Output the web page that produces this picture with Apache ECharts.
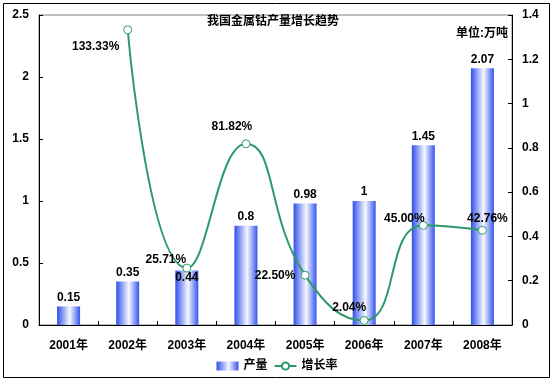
<!DOCTYPE html>
<html>
<head>
<meta charset="utf-8">
<script src="https://cdn.jsdelivr.net/npm/echarts@6/dist/echarts.min.js"></script>
<style>
html,body{margin:0;padding:0;background:#fff;}
#main{width:554px;height:383px;}
</style>
</head>
<body>
<div id="main"></div>
<script>
var categories = ['2001年','2002年','2003年','2004年','2005年','2006年','2007年','2008年'];
var output = [0.15, 0.35, 0.44, 0.8, 0.98, 1, 1.45, 2.07];
var growth = [null, 1.3333, 0.2571, 0.8182, 0.225, 0.0204, 0.45, 0.4276];
var leftTicks = {min: 0, max: 2.5, interval: 0.5};
var rightTicks = {min: 0, max: 1.4, interval: 0.2};
var titleText = '我国金属钴产量增长趋势';
var unitText = '单位:万吨';

// label styling (offsets in px), kept separate from data
var growthLabelOffsets = [null, [-32, 17], [-21, -8], [-14, -17], [-30, 1], [-15, -13], [-19, -7], [5, -12]];

var FONT = '"Liberation Sans", Arial, "Noto Sans CJK SC", sans-serif';
var lineColor = '#2E9A6B';
var barGradient = new echarts.graphic.LinearGradient(0, 0, 1, 0, [
  {offset: 0, color: '#2F50EA'},
  {offset: 0.55, color: '#F6F8FF'},
  {offset: 1, color: '#3556EC'}
]);

var barData = output.map(function (v, i) {
  var d = {value: v};
  if (i === 2) {
    d.label = {position: 'insideTop', distance: 1};
  }
  return d;
});

var lineData = growth.map(function (v, i) {
  if (v === null) return null;
  return {value: v, label: {offset: growthLabelOffsets[i]}};
});

var chart = echarts.init(document.getElementById('main'));
chart.setOption({
  animation: false,
  textStyle: {fontFamily: FONT},
  grid: {left: 39, right: 42, top: 15, bottom: 58, show: true, borderColor: '#808080', borderWidth: 1},
  graphic: [
    {type: 'rect', shape: {x: 3.5, y: 3.5, width: 546, height: 374}, style: {fill: 'none', stroke: '#000', lineWidth: 1}, z: 100},
    {type: 'text', x: 273, y: 22, style: {text: titleText, textAlign: 'center', textVerticalAlign: 'middle', font: 'bold 12px ' + FONT, fill: '#000'}},
    {type: 'text', x: 508, y: 34, style: {text: unitText, textAlign: 'right', textVerticalAlign: 'middle', font: 'bold 12px ' + FONT, fill: '#000'}}
  ],
  legend: {
    bottom: 6,
    left: 'center',
    itemWidth: 22,
    itemHeight: 9,
    itemGap: 6,
    textStyle: {fontSize: 12, fontWeight: 'bold', color: '#000', fontFamily: FONT},
    data: [{name: '产量', icon: 'rect'}, {name: '增长率'}]
  },
  xAxis: {
    type: 'category',
    data: categories,
    boundaryGap: true,
    axisLine: {show: true, lineStyle: {color: '#000', width: 1}},
    axisTick: {show: true, inside: true, length: 4, lineStyle: {color: '#000'}},
    axisLabel: {fontSize: 12, fontWeight: 'bold', color: '#000', margin: 15, fontFamily: FONT},
    splitLine: {show: false}
  },
  yAxis: [
    {
      type: 'value', position: 'left',
      min: leftTicks.min, max: leftTicks.max, interval: leftTicks.interval,
      axisLine: {show: true, lineStyle: {color: '#000', width: 1}},
      axisTick: {show: true, inside: true, length: 4, lineStyle: {color: '#000'}},
      axisLabel: {fontSize: 12, fontWeight: 'bold', color: '#000', margin: 10, fontFamily: FONT},
      splitLine: {show: false}
    },
    {
      type: 'value', position: 'right',
      min: rightTicks.min, max: rightTicks.max, interval: rightTicks.interval,
      axisLine: {show: true, lineStyle: {color: '#000', width: 1}},
      axisTick: {show: true, inside: true, length: 4, lineStyle: {color: '#000'}},
      axisLabel: {fontSize: 12, fontWeight: 'bold', color: '#000', margin: 10, fontFamily: FONT,
        formatter: function (v) { return String(Math.round(v * 10) / 10); }},
      splitLine: {show: false}
    }
  ],
  series: [
    {
      name: '产量',
      type: 'bar',
      yAxisIndex: 0,
      barWidth: 23,
      data: barData,
      itemStyle: {color: barGradient},
      label: {show: true, position: 'top', distance: 3, fontSize: 12, fontWeight: 'bold', color: '#000', fontFamily: FONT},
      z: 2
    },
    {
      name: '增长率',
      type: 'line',
      yAxisIndex: 1,
      data: lineData,
      smooth: 0.5,
      connectNulls: false,
      symbol: 'circle',
      symbolSize: 8,
      lineStyle: {color: lineColor, width: 2},
      itemStyle: {color: '#fff', borderColor: lineColor, borderWidth: 1},
      label: {
        show: true, position: 'inside', fontSize: 12, fontWeight: 'bold', color: '#000', fontFamily: FONT,
        formatter: function (p) { return (p.value * 100).toFixed(2) + '%'; }
      },
      z: 3
    }
  ]
});
</script>
</body>
</html>
